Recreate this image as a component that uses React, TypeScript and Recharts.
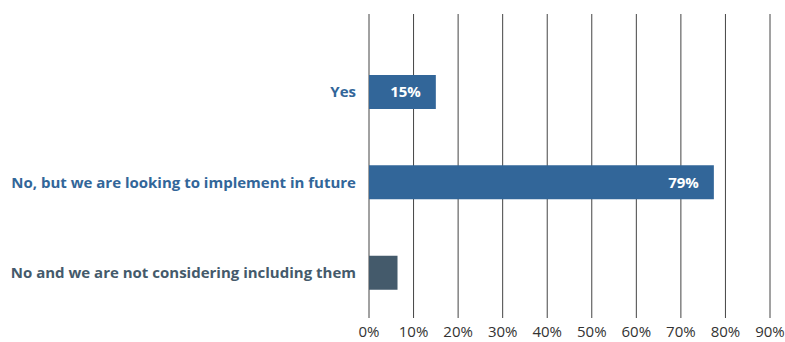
import React from 'react';
import { BarChart, Bar, XAxis, YAxis, CartesianGrid, LabelList, Cell } from 'recharts';

const categories = [
  'Yes',
  'No, but we are looking to implement in future',
  'No and we are not considering including them',
];
const values = [15, 77.4, 6.4];
const valueLabels = ['15%', '79%', ''];
const xTicks = [0, 10, 20, 30, 40, 50, 60, 70, 80, 90];

const barColors = ['#326699', '#326699', '#445a6b'];
const labelColors = ['#326699', '#326699', '#445a6b'];

const data = categories.map((name, i) => ({ name, value: values[i], label: valueLabels[i] }));

const FONT = '"Open Sans", sans-serif';

const CategoryTick = ({ x, y, payload, index }: any) => (
  <text
    x={x}
    y={y}
    dy="0.35em"
    textAnchor="end"
    fill={labelColors[index]}
    fontFamily={FONT}
    fontWeight={700}
    fontSize={15}
  >
    {payload.value}
  </text>
);

export default function App() {
  return (
    <div style={{ position: 'absolute', left: 0, top: 0, background: '#fff' }}>
      <BarChart
        width={785}
        height={342}
        data={data}
        layout="vertical"
        margin={{ top: 14, right: 15, bottom: 0, left: 0 }}
      >
        <CartesianGrid horizontal={false} stroke="#444" />
        <XAxis
          type="number"
          domain={[0, 90]}
          ticks={xTicks}
          tickFormatter={(v: number) => `${v}%`}
          axisLine={false}
          tickLine={false}
          tickSize={0}
          tickMargin={8}
          height={24}
          interval={0}
          tick={{ fill: '#333', fontFamily: FONT, fontSize: 15 }}
        />
        <YAxis
          type="category"
          dataKey="name"
          width={369}
          axisLine={false}
          tickLine={false}
          tickSize={0}
          tickMargin={13}
          padding={{ top: 33, bottom: 0 }}
          tick={<CategoryTick />}
        />
        <Bar dataKey="value" barSize={34} isAnimationActive={false}>
          {data.map((d, i) => (
            <Cell key={d.name} fill={barColors[i]} />
          ))}
          <LabelList
            dataKey="label"
            position="insideRight"
            offset={15}
            fill="#fff"
            fontFamily={FONT}
            fontWeight={700}
            fontSize={15}
          />
        </Bar>
      </BarChart>
    </div>
  );
}
